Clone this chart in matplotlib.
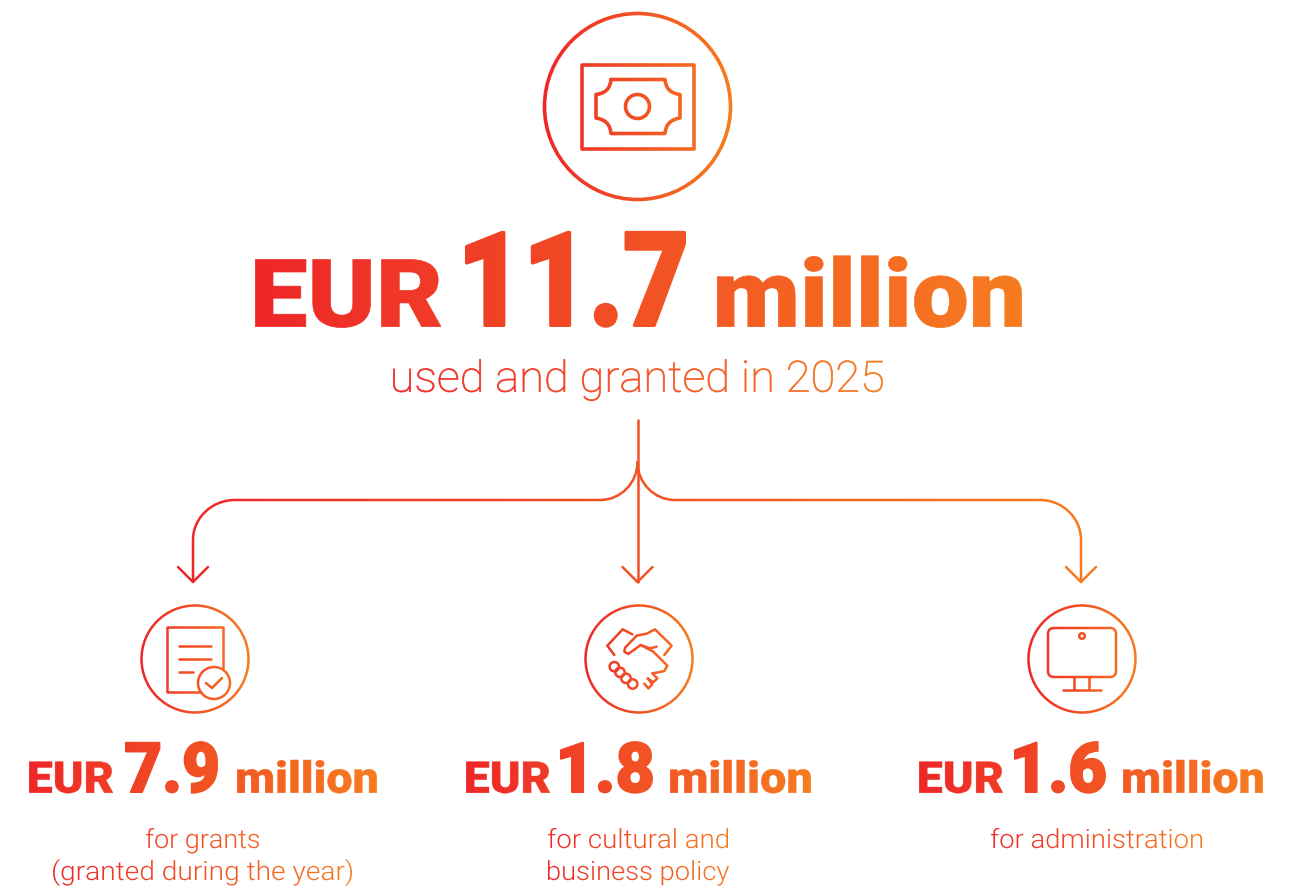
import numpy as np
import matplotlib
matplotlib.use("Agg")
import matplotlib.pyplot as plt
from matplotlib.font_manager import FontProperties
from matplotlib.patches import Circle, PathPatch, FancyBboxPatch
from matplotlib.path import Path
from matplotlib.patheffects import AbstractPathEffect
from matplotlib.textpath import TextPath
from matplotlib.transforms import Affine2D, Bbox

# --- values ---
total_amount = "11.7"
total_label = "used and granted in 2025"
item_amounts = ["7.9", "1.8", "1.6"]
item_labels = [
    ["for grants", "(granted during the year)"],
    ["for cultural and", "business policy"],
    ["for administration"],
]

RED = np.array([238, 38, 40]) / 255
ORANGE = np.array([246, 124, 32]) / 255
HEAVY = FontProperties(family="Roboto", weight=900)
LIGHT = FontProperties(family="Roboto", weight=300)
THIN = FontProperties(family="Roboto", weight=100)


# --- horizontal gradient, painted in thin strips, works on text, lines and patches ---
class Gradient(AbstractPathEffect):
    def __init__(self, x0, x1, sx=1.0, bold=0.0):
        super().__init__()
        self.x0, self.x1, self.sx, self.bold = x0, x1, sx, bold

    def draw_path(self, renderer, gc, tpath, affine, rgbFace=None):
        if self.sx != 1.0:
            affine = Affine2D().scale(self.sx, 1) + affine
        box = tpath.transformed(affine).get_extents()
        h = renderer.height
        for x in range(int(box.x0) - 6, int(box.x1) + 6, 2):
            t = np.clip((x + 1 - self.x0) / (self.x1 - self.x0), 0, 1)
            col = tuple(RED + (ORANGE - RED) * t)
            g = renderer.new_gc()
            g.copy_properties(gc)
            g.set_clip_rectangle(Bbox([[x, 0], [x + 2, h]]))
            if rgbFace is None:
                g.set_foreground(col)
                renderer.draw_path(g, tpath, affine, None)
            else:
                if self.bold:
                    g.set_foreground(col)
                    g.set_linewidth(self.bold)
                renderer.draw_path(g, tpath, affine, col)
            g.restore()


fig = plt.figure(figsize=(12.97, 8.86), dpi=100)
ax = fig.add_axes([0, 0, 1, 1])
ax.set_xlim(0, 1297)
ax.set_ylim(886, 0)
ax.axis("off")


def write(x0, x1, y, s, size, font, span, bold=0.0):
    # fit the ink of the string between x0 and x1, bold is an extra outline in points
    pad = 1 + bold * 100 / 72 / 2
    x0, x1 = x0 + pad, x1 - pad
    fp = font.copy()
    fp.set_size(size)
    ink = TextPath((0, 0), s, prop=fp).get_extents()
    sx = (x1 - x0) / (ink.width * 100 / 72)
    ax.text(x0 - ink.x0 * 100 / 72 * sx, y - bold * 100 / 72 / 2, s, fontproperties=fp, ha="left",
            va="baseline", color=RED, path_effects=[Gradient(span[0], span[1], sx, bold)])


def stroke(verts, codes, lw, span):
    ax.add_patch(PathPatch(Path(verts, codes), fill=False, lw=lw, capstyle="round",
                           joinstyle="round", path_effects=[Gradient(*span)]))


def poly(pts, lw, span, closed=False):
    pts = list(pts)
    codes = [Path.MOVETO] + [Path.LINETO] * (len(pts) - 1)
    if closed:
        pts.append(pts[0])
        codes.append(Path.CLOSEPOLY)
    stroke(pts, codes, lw, span)


def ring(cx, cy, r, lw, span):
    ax.add_patch(Circle((cx, cy), r, fill=False, lw=lw, path_effects=[Gradient(*span)]))


# --- top block ---
span = (544, 731)
ring(637.5, 106.5, 93, 2.6, span)
poly([(581.5, 65), (694, 65), (694, 148.5), (581.5, 148.5)], 2.6, span, closed=True)
M, L, C = Path.MOVETO, Path.LINETO, Path.CURVE3
stroke([(611, 79.5), (665, 79.5), (666, 93), (680, 94.5), (680, 118), (666, 120), (665, 133.5),
        (611, 133.5), (610, 120), (596, 118), (596, 94.5), (610, 93), (611, 79.5)],
       [M, L, C, C, L, C, C, L, C, C, L, C, C], 2.6, span)
ring(637.5, 106.5, 12, 2.6, span)

span = (254, 1023)
write(254, 442, 327, "EUR", 68, HEAVY, span, bold=0.5)
write(464, 687, 327, total_amount, 94, HEAVY, span, bold=2.4)
write(716, 1023, 327, "million", 68, HEAVY, span, bold=0.5)
write(392, 884, 392, total_label, 31, THIN, (392, 884), bold=0.5)

# --- arrows ---
span = (178, 1096)
lw = 1.8
K = 0.5523
CU = Path.CURVE4
poly([(637.5, 420), (637.5, 582)], lw, span)
poly([(622.5, 567), (637.5, 582), (652.5, 567)], lw, span)
stroke([(637.5, 462), (637.5, 462 + 38 * K), (600 + 37.5 * K, 500), (600, 500), (235, 500),
        (235 - 42 * K, 500), (193, 540 - 40 * K), (193, 540), (193, 582)],
       [M, CU, CU, CU, L, CU, CU, CU, L], lw, span)
poly([(178, 567), (193, 582), (208, 567)], lw, span)
stroke([(637.5, 462), (637.5, 462 + 38 * K), (675 - 37.5 * K, 500), (675, 500), (1040, 500),
        (1040 + 41 * K, 500), (1081, 540 - 40 * K), (1081, 540), (1081, 582)],
       [M, CU, CU, CU, L, CU, CU, CU, L], lw, span)
poly([(1066, 567), (1081, 582), (1096, 567)], lw, span)

# --- small icons ---
ilw = 1.8
span = (141, 249)
ring(195, 659, 53.5, ilw, span)
poly([(201, 692), (167, 692), (167, 627), (223, 627), (223, 668)], ilw, span)
poly([(179, 646), (211, 646)], ilw, span)
poly([(179, 659), (211, 659)], ilw, span)
poly([(179, 672), (193, 672)], ilw, span)
ring(214, 683, 16, ilw, span)
poly([(206, 683), (212, 688), (222, 678)], ilw, span)

span = (585, 693)
ring(639, 659, 53.5, ilw, span)


def hs(pts):
    return [(575 + a / 3, 595 + b / 3) for a, b in pts]


poly(hs([(118, 180), (97, 152), (143, 103), (172, 118)]), ilw, span)
poly(hs([(268, 180), (290, 152), (240, 103), (215, 116), (185, 122), (150, 158), (148, 170),
         (160, 177), (197, 150), (235, 170), (277, 212), (268, 228), (250, 232), (232, 235),
         (247, 250), (235, 262), (218, 250), (232, 268), (220, 280), (208, 266)]), ilw, span)
poly(hs([(197, 150), (225, 160), (245, 155)]), ilw, span)
for a, b in hs([(118, 215), (135, 232), (153, 250), (173, 267)]):
    ring(a, b, 4.7, ilw, span)

span = (1028, 1136)
ring(1082, 659, 53.5, ilw, span)
ax.add_patch(FancyBboxPatch((1054, 634), 56, 37, boxstyle="round,pad=6,rounding_size=6",
                            fill=False, lw=ilw, path_effects=[Gradient(*span)]))
ring(1082, 636, 2.8, ilw, span)
poly([(1074, 677), (1074, 689)], ilw, span)
poly([(1089, 677), (1089, 689)], ilw, span)
poly([(1063, 689.5), (1101, 689.5)], ilw, span)

# --- amounts under the icons ---
eur_x = [(28, 114), (465, 551), (918, 1004)]
num_x = [(124, 219), (559, 654), (1013, 1107)]
mil_x = [(236, 378), (669, 812), (1122, 1264)]
spans = [(28, 377), (465, 811), (918, 1263)]
label_x = [[(145, 260), (52, 353)], [(547, 729), (547, 730)], [(990, 1203)]]
label_span = [(52, 352), (547, 729), (990, 1202)]
for i, amount in enumerate(item_amounts):
    write(*eur_x[i], 793, "EUR", 31.5, HEAVY, spans[i], bold=0.3)
    write(*num_x[i], 793, amount, 50, HEAVY, spans[i], bold=1.3)
    write(*mil_x[i], 793, "million", 31.5, HEAVY, spans[i], bold=0.3)
    for j, line in enumerate(item_labels[i]):
        write(*label_x[i][j], 848 + 32 * j, line, 19, LIGHT, label_span[i])

fig.savefig("out.png", dpi=100, facecolor="white")
